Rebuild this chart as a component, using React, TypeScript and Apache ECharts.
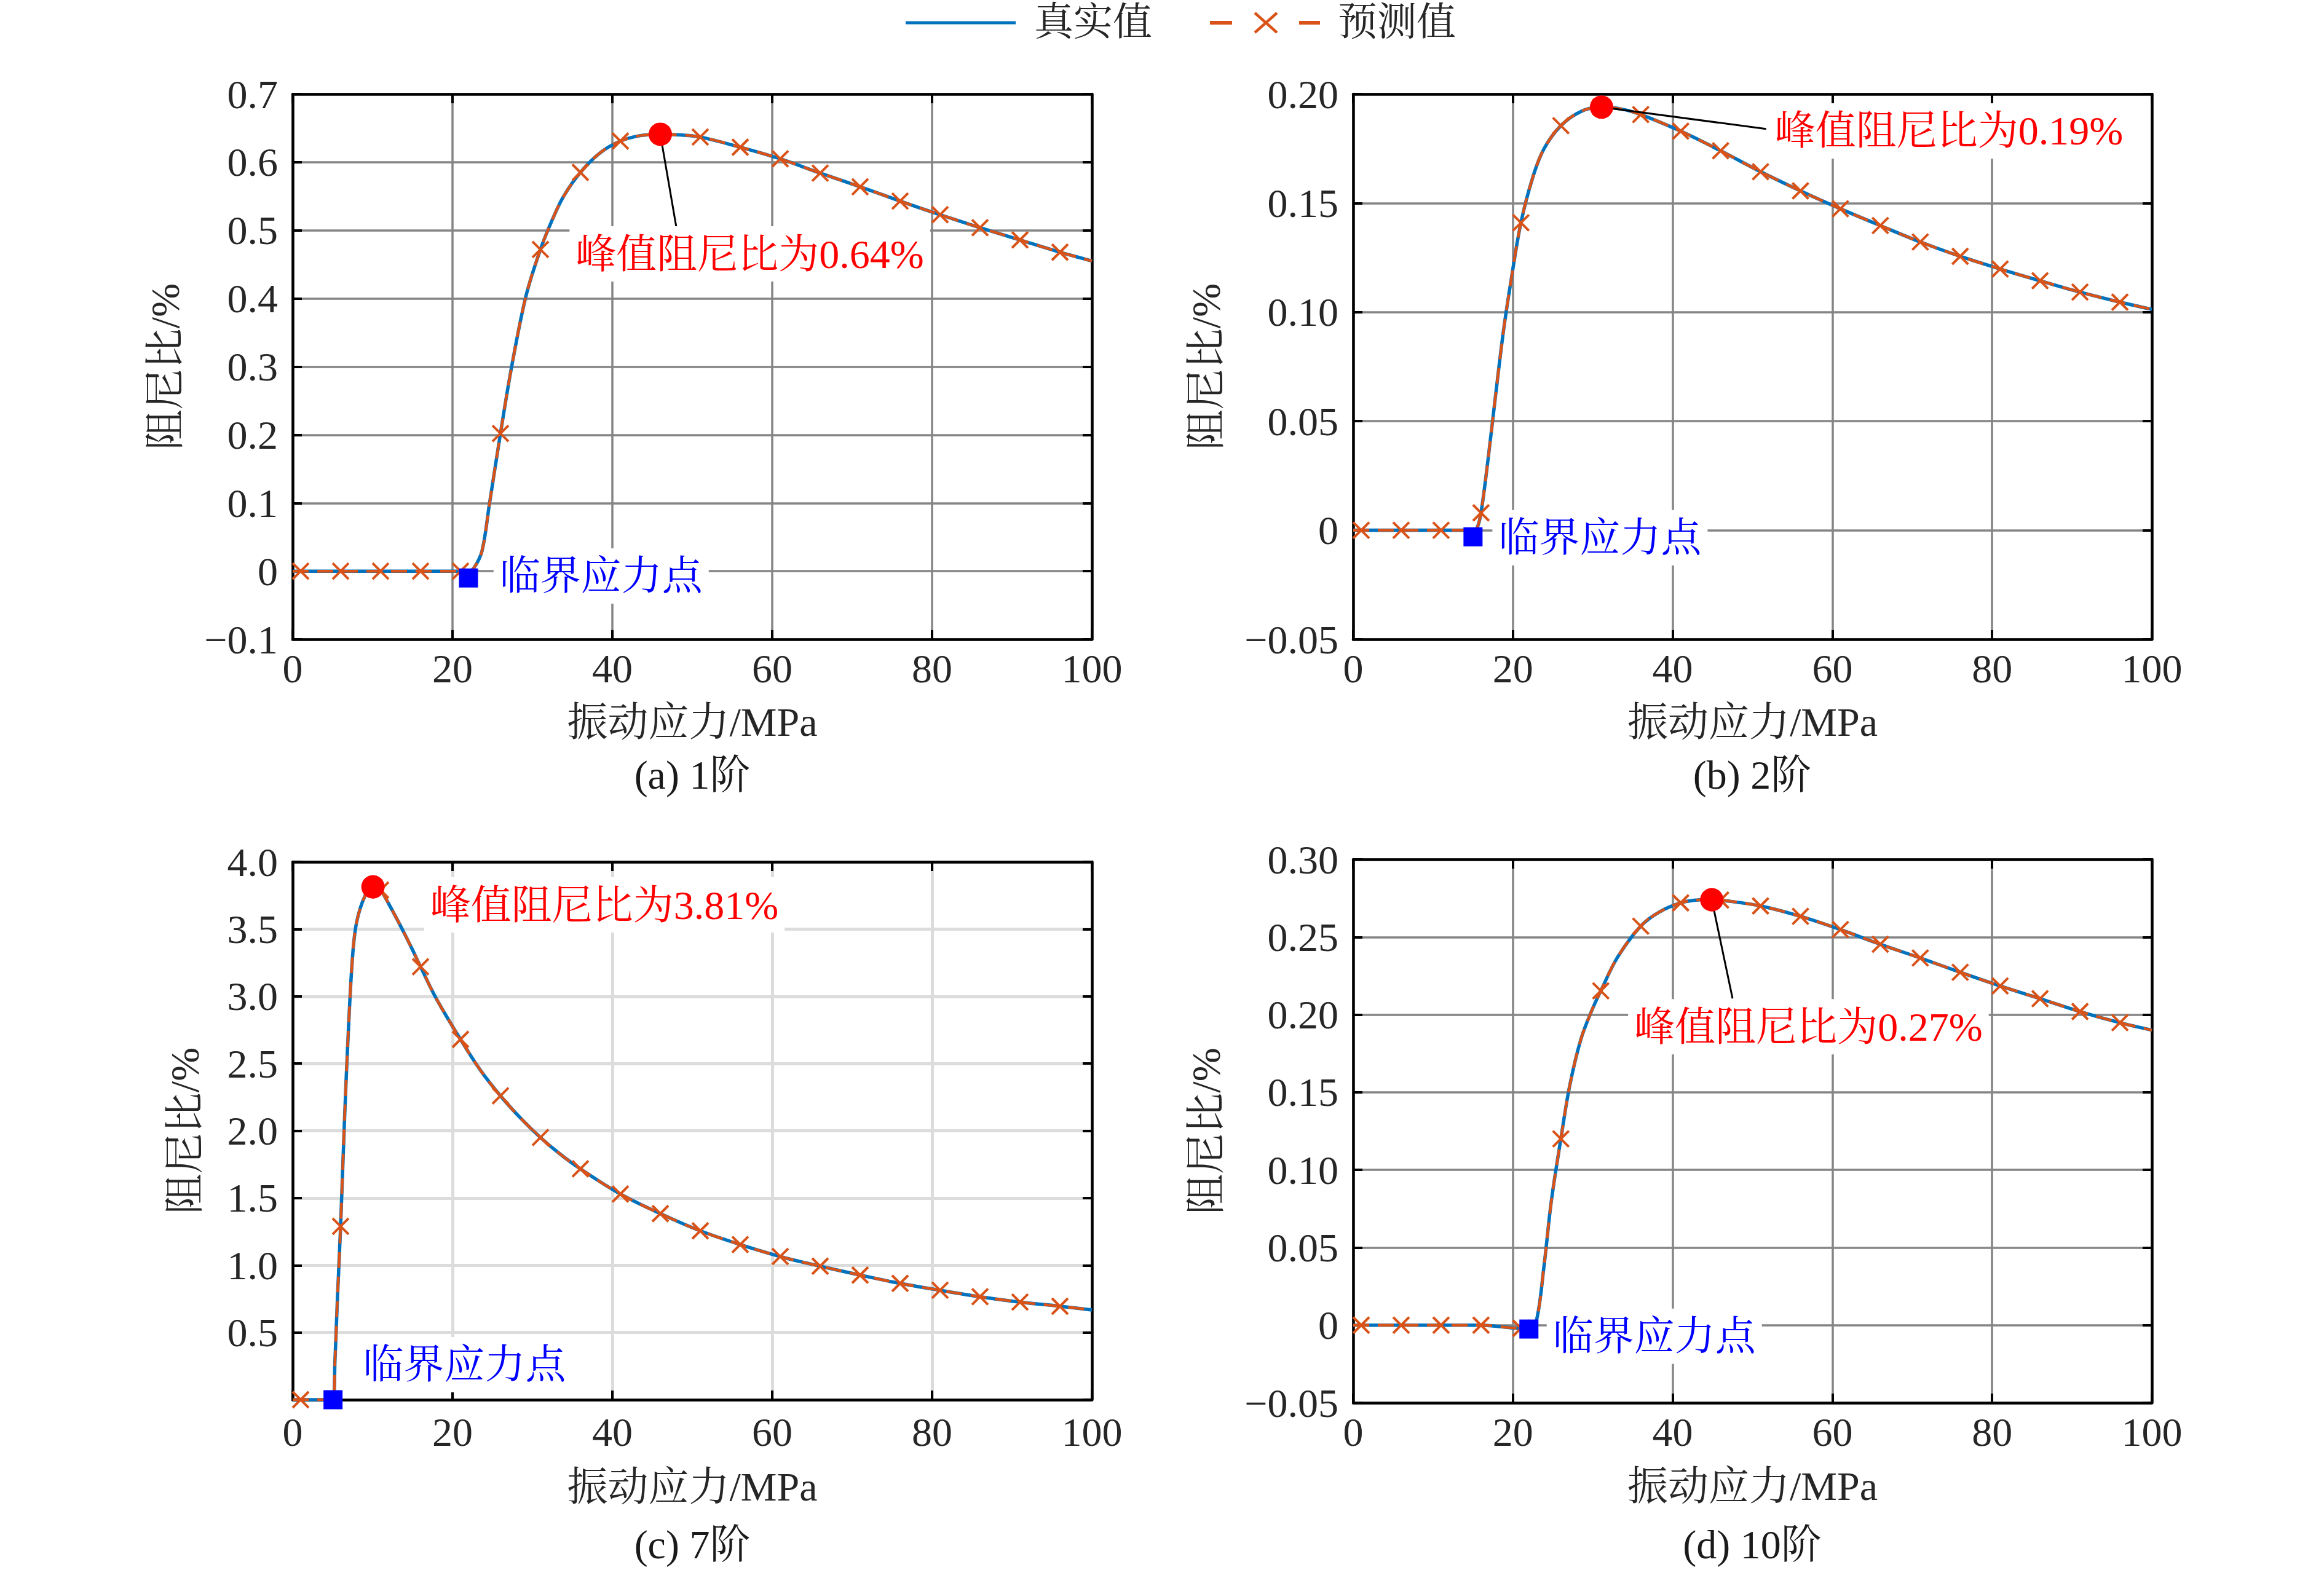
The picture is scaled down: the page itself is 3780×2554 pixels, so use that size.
import * as echarts from 'echarts';
import { useEffect, useRef } from 'react';

// 振动应力/MPa 横轴刻度
const stressTicks = ['0', '20', '40', '60', '80', '100'];
// 预测值的标记位置
const markerStress = [1, 6, 11, 16, 21, 26, 31, 36, 41, 46, 51, 56, 61, 66, 71, 76, 81, 86, 91, 96];

// (a) 1阶
const stressA = [0, 1, 6, 11, 16, 21, 22, 22.7, 23.7, 24.6, 26, 27.4, 29.2, 31, 32.5, 33.9, 36, 38.5, 41, 43.5, 46, 48.5, 51, 56, 61, 66, 71, 76, 81, 86, 91, 96, 100];
const dampA = [0, 0, 0, 0, 0, 0, 0, 0.005, 0.03, 0.097, 0.202, 0.3, 0.404, 0.472, 0.516, 0.55, 0.585, 0.614, 0.631, 0.639, 0.641, 0.64, 0.637, 0.622, 0.605, 0.584, 0.564, 0.543, 0.523, 0.504, 0.486, 0.468, 0.455];
const yTicksA = ['\u22120.1', '0', '0.1', '0.2', '0.3', '0.4', '0.5', '0.6', '0.7'];

// (b) 2阶
const stressB = [0, 1, 6, 11, 15, 15.5, 16, 16.9, 17.8, 18.8, 19.7, 21, 22.5, 23.9, 26, 28.5, 31, 33.5, 36, 41, 46, 51, 56, 61, 66, 71, 76, 81, 86, 91, 96, 100];
const dampB = [0, 0, 0, 0, 0, 0.001, 0.008, 0.033, 0.061, 0.091, 0.113, 0.141, 0.162, 0.175, 0.1855, 0.192, 0.194, 0.1932, 0.1906, 0.183, 0.174, 0.1644, 0.1556, 0.1474, 0.1397, 0.1322, 0.1256, 0.1198, 0.1144, 0.1092, 0.1046, 0.1013];
const yTicksB = ['\u22120.05', '0', '0.05', '0.10', '0.15', '0.20'];

// (c) 7阶
const stressC = [0, 1, 4, 5, 5.3, 5.6, 6, 6.5, 7, 7.5, 8, 9, 10, 10.5, 11, 12, 13, 14, 15, 16, 18, 21, 23.5, 26, 28.5, 31, 33.5, 36, 41, 46, 51, 56, 61, 66, 71, 76, 81, 86, 91, 96, 100];
const dampC = [0, 0, 0, 0, 0.3, 0.75, 1.29, 2.1, 2.78, 3.3, 3.55, 3.74, 3.81, 3.81, 3.79, 3.69, 3.58, 3.465, 3.345, 3.22, 2.98, 2.68, 2.45, 2.26, 2.095, 1.95, 1.825, 1.717, 1.53, 1.384, 1.256, 1.154, 1.065, 0.993, 0.927, 0.865, 0.814, 0.766, 0.726, 0.695, 0.667];
const yTicksC = ['', '0.5', '1.0', '1.5', '2.0', '2.5', '3.0', '3.5', '4.0'];

// (d) 10阶
const stressD = [0, 1, 6, 11, 16, 21, 22, 22.9, 23.9, 24.8, 26, 27.1, 28.5, 29.9, 31, 33.1, 36, 38.3, 41, 43, 45, 46, 51, 56, 61, 66, 71, 76, 81, 86, 91, 96, 100];
const dampD = [0, 0, 0, 0, 0, -0.002, -0.002, 0.002, 0.0385, 0.0796, 0.12, 0.154, 0.184, 0.203, 0.2153, 0.237, 0.257, 0.266, 0.272, 0.2738, 0.2742, 0.2738, 0.27, 0.2633, 0.2548, 0.2453, 0.2365, 0.2273, 0.2185, 0.2103, 0.202, 0.1948, 0.19];
const yTicksD = ['\u22120.05', '0', '0.05', '0.10', '0.15', '0.20', '0.25', '0.30'];

// 峰值点与临界应力点
const peakX = [46, 31.1, 10.05, 44.9];
const peakY = [0.641, 0.194, 3.814, 0.274];
const peakText = ['峰值阻尼比为0.64%', '峰值阻尼比为0.19%', '峰值阻尼比为3.81%', '峰值阻尼比为0.27%'];
const peakTextX = [57.2, 74.6, 39.0, 57.0];
const peakTextY = [0.4655, 0.1831, 3.68, 0.1922];
const leaderX = [48.0, 51.7, null, 47.5];
const leaderY = [0.505, 0.184, null, 0.2104];
const critX = [22, 15, 5.05, 22];
const critY = [-0.01, -0.003, 0, -0.0025];
const critText = '临界应力点';
const critTextX = [38.6, 30.9, 21.5, 37.7];
const critTextY = [-0.007, -0.0034, 0.261, -0.0071];
const panelTitles = ['(a) 1阶', '(b) 2阶', '(c) 7阶', '(d) 10阶'];

const FONT = "'Liberation Serif', 'Times New Roman', 'Noto Serif CJK SC', 'Noto Sans CJK SC', serif";
const BLUE = '#0072BD';
const ORANGE = '#D95319';
const TXT = '#262626';

const panels = [
    { x: stressA, y: dampA, yMin: -0.1, yMax: 0.7, yStep: 0.1, yTicks: yTicksA, grid: { left: 476, top: 153, width: 1300, height: 887 }, gridColor: '#858585', gridWidth: 3.5, nameGap: 175, xMargin: 14, xNameGap: 101 },
    { x: stressB, y: dampB, yMin: -0.05, yMax: 0.2, yStep: 0.05, yTicks: yTicksB, grid: { left: 2201, top: 153, width: 1299, height: 887 }, gridColor: '#858585', gridWidth: 3.5, nameGap: 207, xMargin: 14, xNameGap: 101 },
    { x: stressC, y: dampC, yMin: 0, yMax: 4, yStep: 0.5, yTicks: yTicksC, grid: { left: 476, top: 1402, width: 1300, height: 875 }, gridColor: '#dcdcdc', gridWidth: 5, nameGap: 143, xMargin: 19, xNameGap: 108 },
    { x: stressD, y: dampD, yMin: -0.05, yMax: 0.3, yStep: 0.05, yTicks: yTicksD, grid: { left: 2201, top: 1398, width: 1299, height: 884 }, gridColor: '#858585', gridWidth: 3.5, nameGap: 207, xMargin: 14, xNameGap: 102 },
];

const frameLine = { onZero: false, lineStyle: { color: '#000', width: 4.5 } };
const frameTick = { inside: true, length: 15, lineStyle: { color: '#000', width: 4 } };
const textStyle = { fontFamily: FONT, fontSize: 66, color: TXT };

const App = () => {
    const divRef = useRef<HTMLDivElement>(null);

    useEffect(() => {
        const chart = echarts.init(divRef.current!, null, { renderer: 'svg' });

        const grid: any[] = [];
        const xAxis: any[] = [];
        const yAxis: any[] = [];
        const series: any[] = [];

        panels.forEach((p, i) => {
            grid.push(p.grid);
            xAxis.push({
                type: 'value', gridIndex: i, position: 'bottom', min: 0, max: 100, interval: 20,
                name: '振动应力/MPa', nameLocation: 'middle', nameGap: p.xNameGap, nameTextStyle: textStyle,
                axisLine: frameLine, axisTick: frameTick,
                axisLabel: { ...textStyle, margin: p.xMargin, formatter: (v: number) => stressTicks[Math.round(v / 20)] ?? '' },
                splitLine: { show: true, lineStyle: { color: p.gridColor, width: p.gridWidth } },
            });
            xAxis.push({
                type: 'value', gridIndex: i, position: 'top', min: 0, max: 100, interval: 20,
                axisLine: frameLine, axisTick: frameTick, axisLabel: { show: false }, splitLine: { show: false },
            });
            yAxis.push({
                type: 'value', gridIndex: i, position: 'left', min: p.yMin, max: p.yMax, interval: p.yStep,
                name: '阻尼比/%', nameLocation: 'middle', nameGap: p.nameGap, nameRotate: 90, nameTextStyle: textStyle,
                axisLine: frameLine, axisTick: frameTick,
                axisLabel: { ...textStyle, margin: 24, formatter: (v: number) => p.yTicks[Math.round((v - p.yMin) / p.yStep)] ?? '' },
                splitLine: { show: true, lineStyle: { color: p.gridColor, width: p.gridWidth } },
            });
            yAxis.push({
                type: 'value', gridIndex: i, position: 'right', min: p.yMin, max: p.yMax, interval: p.yStep,
                axisLine: frameLine, axisTick: frameTick, axisLabel: { show: false }, splitLine: { show: false },
            });

            const pts = p.x.map((x, k) => [x, p.y[k]]);
            const marks = pts.filter((pt) => markerStress.includes(pt[0]));
            const ax = { xAxisIndex: 2 * i, yAxisIndex: 2 * i, silent: true };

            series.push({
                ...ax, name: '真实值', type: 'line', data: pts, smooth: 0.35, symbol: 'none', z: 2,
                lineStyle: { color: BLUE, width: 5.5 },
            });
            series.push({
                ...ax, name: '预测值', type: 'line', data: pts, smooth: 0.35, symbol: 'none', z: 3,
                lineStyle: { color: ORANGE, width: 4.5, type: [26, 14] },
            });
            series.push({
                ...ax, type: 'scatter', data: marks, symbol: 'path://M0,0L10,10M10,0L0,10', symbolSize: 26, z: 4,
                itemStyle: { color: 'none', borderColor: ORANGE, borderWidth: 4, opacity: 1 },
            });
            if (leaderX[i] !== null) {
                series.push({
                    ...ax, type: 'line', data: [[peakX[i], peakY[i]], [leaderX[i], leaderY[i]]], symbol: 'none', z: 5,
                    lineStyle: { color: '#000', width: 3 },
                });
            }
            series.push({
                ...ax, type: 'scatter', data: [[peakX[i], peakY[i]]], symbol: 'circle', symbolSize: 38, z: 6,
                itemStyle: { color: '#FF0000', opacity: 1 },
            });
            series.push({
                ...ax, type: 'scatter', data: [[critX[i], critY[i]]], symbol: 'rect', symbolSize: 31, z: 6,
                itemStyle: { color: '#0000FF', opacity: 1 },
            });
            series.push({
                ...ax, type: 'scatter', symbolSize: 1, z: 7, itemStyle: { color: 'rgba(0,0,0,0)', opacity: 1 },
                label: { show: true, position: 'inside', fontFamily: FONT, fontSize: 66, backgroundColor: '#fff', padding: [12, 10] },
                data: [
                    { value: [peakTextX[i], peakTextY[i]], label: { formatter: peakText[i], color: '#FF0000' } },
                    { value: [critTextX[i], critTextY[i]], label: { formatter: critText, color: '#0000FF' } },
                ],
            });
        });

        const titleSpots = [[1126, 1260], [2850, 1260], [1126, 2512], [2850, 2512]];
        const graphic: any[] = [
            { type: 'line', shape: { x1: 1473, y1: 37, x2: 1652, y2: 37 }, style: { stroke: BLUE, lineWidth: 5 } },
            { type: 'text', x: 1682, y: 35, style: { text: '真实值', font: `64px ${FONT}`, fill: TXT, textVerticalAlign: 'middle' } },
            { type: 'line', shape: { x1: 1968, y1: 37, x2: 2004, y2: 37 }, style: { stroke: ORANGE, lineWidth: 6 } },
            { type: 'line', shape: { x1: 2113, y1: 37, x2: 2147, y2: 37 }, style: { stroke: ORANGE, lineWidth: 6 } },
            { type: 'line', shape: { x1: 2041, y1: 21, x2: 2077, y2: 53 }, style: { stroke: ORANGE, lineWidth: 4.5 } },
            { type: 'line', shape: { x1: 2077, y1: 21, x2: 2041, y2: 53 }, style: { stroke: ORANGE, lineWidth: 4.5 } },
            { type: 'text', x: 2176, y: 35, style: { text: '预测值', font: `64px ${FONT}`, fill: TXT, textVerticalAlign: 'middle' } },
        ];
        panelTitles.forEach((t, i) => {
            graphic.push({
                type: 'text', x: titleSpots[i][0], y: titleSpots[i][1],
                style: { text: t, font: `66px ${FONT}`, fill: '#1a1a1a', textAlign: 'center', textVerticalAlign: 'middle' },
            });
        });

        chart.setOption({
            animation: false,
            backgroundColor: '#fff',
            grid, xAxis, yAxis, series, graphic,
        });

        return () => {
            chart.dispose();
        };
    }, []);

    return (
        <div ref={divRef} style={{ position: 'fixed', left: 0, top: 0, width: 3780, height: 2554, background: '#fff' }}></div>
    );
};

export default App;
